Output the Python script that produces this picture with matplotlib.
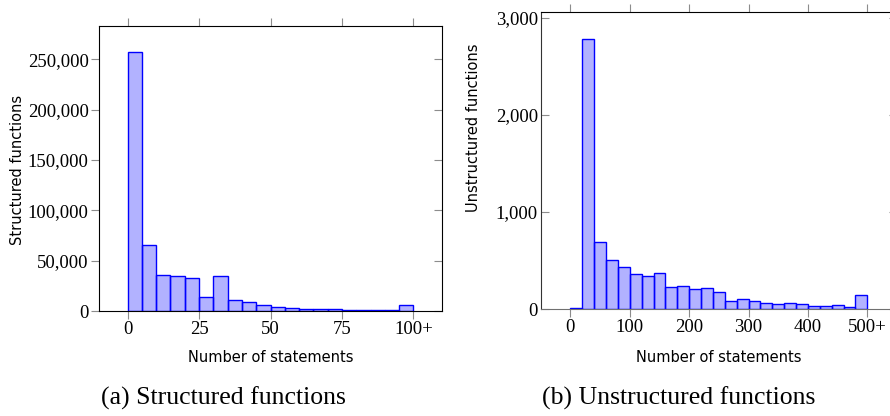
import numpy as np
import matplotlib
matplotlib.use('Agg')
import matplotlib.pyplot as plt
from matplotlib.ticker import FuncFormatter

# Structured functions: bins of width 5 (last bin = 100+)
struct_counts = [257000, 65200, 35400, 34800, 32500, 13900, 35100, 11300, 8600, 5600,
                 4000, 3000, 2300, 1700, 1500, 1000, 900, 700, 600, 6000]
struct_ticks = [0, 25, 50, 75, 100]
struct_ticklabels = ['0', '25', '50', '75', '100+']

# Unstructured functions: bins of width 20 (last bin = 500+)
unstruct_counts = [6, 2780, 694, 505, 430, 364, 344, 368, 227, 234, 210, 213, 179,
                   86, 100, 79, 58, 55, 65, 48, 34, 27, 41, 17, 144]
unstruct_ticks = [0, 100, 200, 300, 400, 500]
unstruct_ticklabels = ['0', '100', '200', '300', '400', '500+']

serif = ['Liberation Serif', 'DejaVu Serif']
sans = ['DejaVu Sans']
tick_col = '#8c8c8c'

fig = plt.figure(figsize=(8.9, 4.16), dpi=100)
axL = fig.add_axes([99 / 890, 1 - 311 / 416, 343 / 890, 285 / 416])
axR = fig.add_axes([540.7 / 890, 1 - 309 / 416, 356.3 / 890, 296.7 / 416])

thousands = FuncFormatter(lambda v, p: f'{v:,.0f}')


def draw(ax, counts, width, ticks, ticklabels, xlim, ylim, yticks, ylabel, left_dir,
         xlab_y, ylab_xy):
    edges = np.arange(len(counts)) * width
    ax.bar(edges, counts, width=width, align='edge', color=(0, 0, 1, 0.3),
           edgecolor='blue', linewidth=1.0)
    ax.set_xlim(*xlim)
    ax.set_ylim(*ylim)
    ax.set_xticks(ticks)
    ax.set_xticklabels(ticklabels)
    ax.set_yticks(yticks)
    ax.yaxis.set_major_formatter(thousands)
    for lab in ax.get_xticklabels() + ax.get_yticklabels():
        lab.set_family(serif)
        lab.set_fontsize(13.5)
    ax.tick_params(axis='x', direction='out', length=5.5, width=0.8, color=tick_col,
                   top=True, pad=1.5)
    ax.tick_params(axis='y', direction=left_dir, length=5.5, width=0.8, color=tick_col,
                   pad=2)
    sec = ax.secondary_yaxis('right')
    sec.set_yticks(yticks)
    sec.tick_params(direction='in', length=5.5, width=0.8, color=tick_col,
                    labelright=False)
    sec.spines['right'].set_visible(False)
    for s in ax.spines.values():
        s.set_linewidth(0.8)
    ax.set_xlabel('Number of statements', family=sans, fontsize=10.5)
    ax.set_ylabel(ylabel, family=sans, fontsize=10.5)
    ax.xaxis.set_label_coords(0.5, xlab_y)
    ax.xaxis.label.set_va('center')
    ax.yaxis.set_label_coords(*ylab_xy)
    ax.yaxis.label.set_va('center')
    ax.yaxis.label.set_ha('center')


draw(axL, struct_counts, 5, struct_ticks, struct_ticklabels, (-10, 110), (0, 283000),
     [0, 50000, 100000, 150000, 200000, 250000], 'Structured functions', 'out',
     (311 - 358) / 285, (-81 / 343, (311 - 170) / 285))
draw(axR, unstruct_counts, 20, unstruct_ticks, unstruct_ticklabels, (-50, 550), (0, 3058),
     [0, 1000, 2000, 3000], 'Unstructured functions', 'in',
     (309 - 357) / 296.7, (-67.7 / 356.3, (309 - 128) / 296.7))
axR.spines['bottom'].set_color('#707070')
axR.spines['left'].set_color('#333333')

fig.text(223 / 890, 1 - 398 / 416, '(a) Structured functions', family=serif,
         fontsize=18.5, ha='center', va='center')
fig.text(679 / 890, 1 - 398 / 416, '(b) Unstructured functions', family=serif,
         fontsize=18.5, ha='center', va='center')

fig.savefig('out.png', dpi=100)
